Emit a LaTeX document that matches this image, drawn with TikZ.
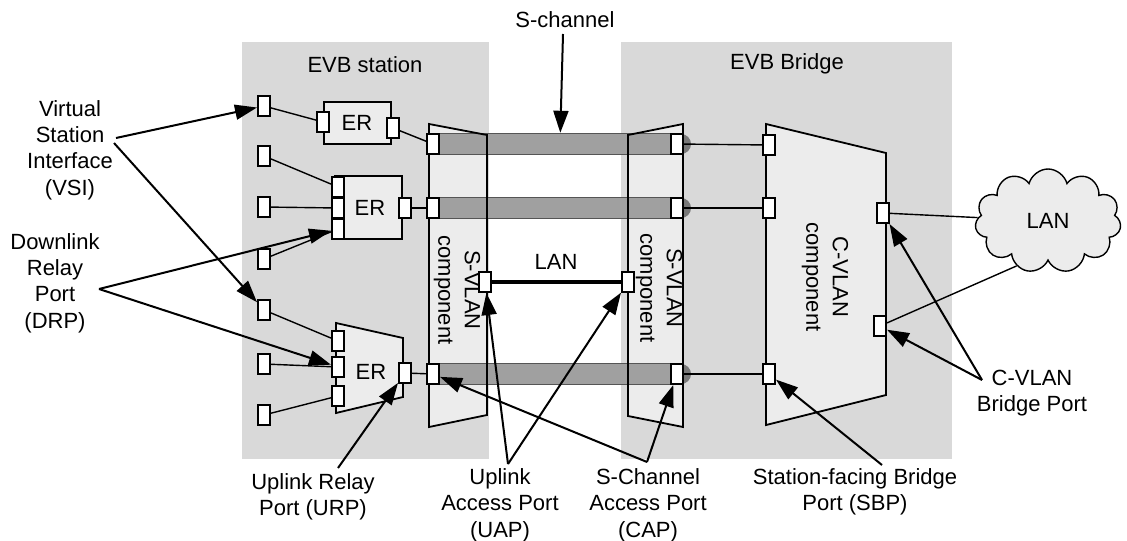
\documentclass[tikz,border=0pt]{standalone}
\usepackage{fontspec}
\setmainfont{Liberation Sans}
\usetikzlibrary{arrows.meta,shapes.symbols}

\definecolor{evbgray}{RGB}{217,217,217}
\definecolor{compgray}{RGB}{236,236,236}
\definecolor{changray}{RGB}{160,160,160}
\definecolor{chanedge}{RGB}{85,85,85}

\begin{document}
\begin{tikzpicture}[
    x=0.5pt, y=-0.5pt,
    >={Triangle[length=11pt,width=7.5pt]},
    font=\fontsize{11}{13.2}\selectfont,
    evbbox/.style={
        fill=evbgray
    },
    component/.style={
        draw,
        line width=0.9pt,
        fill=compgray
    },
    port/.style={
        draw,
        fill=white,
        line width=1pt,
        minimum width=6pt,
        minimum height=10pt,
        inner sep=0pt
    },
    schannel/.style={
        draw=chanedge,
        fill=changray,
        line width=0.7pt,
        minimum width=123.5pt,
        minimum height=10.5pt,
        inner sep=0pt
    },
    link/.style={
        draw,
        line width=0.7pt
    },
    callout/.style={
        draw,
        ->,
        line width=1pt
    },
    rotlabel/.style={
        rotate=-90,
        align=center
    }
]

\useasboundingbox (0,0) rectangle (1127,540);

% ============ BACKGROUND BOXES ============
\fill[evbbox] (242,42) rectangle (489,459);
\fill[evbbox] (621,42) rectangle (952,459);
\node (stationlbl) at (365,65) {EVB station};
\node (bridgelbl) at (787,64) {EVB Bridge};

% ============ S-VLAN COMPONENTS ============
\fill[compgray] (429,124) -- (487,135) -- (487,415) -- (429,427) -- cycle;
\fill[compgray] (628,135) -- (683,124) -- (683,427) -- (628,416) -- cycle;

% S-channels
\foreach \y/\n in {144/1, 208/2, 374/3} {
    \fill[changray!75!black] (437,\y) circle (5pt);
    \fill[changray!75!black] (681,\y) circle (5pt);
    \node[schannel] (ch\n) at (560,\y) {};
}

\draw[component, fill=none] (429,124) -- (487,135) -- (487,415) -- (429,427) -- cycle;
\draw[component, fill=none] (628,135) -- (683,124) -- (683,427) -- (628,416) -- cycle;
\node[rotlabel] (svlanA) at (457,290) {S-VLAN\\component};
\node[rotlabel] (svlanB) at (659,288) {S-VLAN\\component};

% ============ C-VLAN COMPONENT ============
\draw[component] (766,124) -- (886,153) -- (886,395) -- (766,425) -- cycle;
\node[rotlabel] (cvlan) at (825,277) {C-VLAN\\component};

% ============ EDGE RELAYS ============
\draw[component] (324,102) rectangle (391,144);
\node (er1) at (357,123) {ER};
\draw[component] (335,176) rectangle (402,239);
\node (er2) at (370,208) {ER};
\draw[component] (336,323) -- (403,338) -- (403,397) -- (336,413) -- cycle;
\node (er3) at (371,372) {ER};

% ============ PORTS ============
% VSI ports
\foreach \y/\n in {106/1, 156/2, 207/3, 259/4, 310/5, 364/6, 415/7} {
    \node[port] (v\n) at (264,\y) {};
}

% ER ports
\node[port] (e1l) at (323,122) {};
\node[port] (e1r) at (393,128) {};
\node[port] (e2a) at (338,187) {};
\node[port] (e2b) at (338,208) {};
\node[port] (e2c) at (338,229) {};
\node[port] (e2r) at (405,208) {};
\node[port] (e3a) at (338,341) {};
\node[port] (e3b) at (338,367) {};
\node[port] (e3c) at (338,396) {};
\node[port] (e3r) at (405,373) {};

% S-VLAN ports
\node[port] (sl1) at (433,144) {};
\node[port] (sl2) at (433,208) {};
\node[port] (sl3) at (433,374) {};
\node[port] (sr1) at (677,144) {};
\node[port] (sr2) at (677,208) {};
\node[port] (sr3) at (677,374) {};
\node[port] (ul) at (485,282) {};
\node[port] (ur) at (628,282) {};

% C-VLAN ports
\node[port] (c1) at (769,145) {};
\node[port] (c2) at (769,208) {};
\node[port] (c3) at (769,374) {};
\node[port] (c4) at (883,213) {};
\node[port] (c5) at (880,326) {};

% LAN cloud
\node[cloud, cloud puffs=11, aspect=1.5, draw, line width=0.7pt, fill=compgray,
      minimum width=73pt, minimum height=52pt] (lan) at (1048,221) {LAN};

% ============ LINKS ============
\draw[link] (v1) -- (e1l);
\draw[link] (v2) -- (e2a);
\draw[link] (v3) -- (e2b);
\draw[link] (v4) -- (e2c);
\draw[link] (v5) -- (e3a);
\draw[link] (v6) -- (e3b);
\draw[link] (v7) -- (e3c);
\draw[link] (e1r) -- (sl1);
\draw[link] (e2r) -- (sl2);
\draw[link] (e3r) -- (sl3);
\draw[link] (sr1) -- (c1);
\draw[link] (sr2) -- (c2);
\draw[link] (sr3) -- (c3);
\draw[link] (c4) -- (lan);
\draw[link] (c5) -- (lan.235);
\draw[line width=1.8pt] (ul) -- (ur);
\node (lanlbl) at (556,262) {LAN};

% ============ ANNOTATIONS ============
\node (schlbl) at (565,20) {S-channel};
\coordinate (schA) at (563,34);
\draw[callout] (schA) -- (ch1);

\node[align=center] (vsilbl) at (70,150) {Virtual\\Station\\Interface\\(VSI)};
\coordinate (vsiA) at (116,138);
\coordinate (vsiB) at (114,143);
\draw[callout] (vsiA) -- (v1);
\draw[callout] (vsiB) -- (v5);

\node[align=center] (drplbl) at (55,283) {Downlink\\Relay\\Port\\(DRP)};
\coordinate (drpA) at (99,289);
\draw[callout] (drpA) -- (e2c);
\draw[callout] (drpA) -- (e3b);

\node[align=center] (urplbl) at (313,497) {Uplink Relay\\Port (URP)};
\coordinate (urpA) at (338,468);
\draw[callout] (urpA) -- (e3r);

\node[align=center] (uaplbl) at (500,505) {Uplink\\Access Port\\(UAP)};
\coordinate (uapA) at (508,464);
\draw[callout] (uapA) -- (ul);
\draw[callout] (uapA) -- (ur);

\node[align=center] (caplbl) at (648,505) {S-Channel\\Access Port\\(CAP)};
\coordinate (capA) at (647,462);
\draw[callout] (capA) -- (sl3);
\draw[callout] (capA) -- (sr3);

\node[align=center] (sbplbl) at (855,492) {Station-facing Bridge\\Port (SBP)};
\coordinate (sbpA) at (882,465);
\draw[callout] (sbpA) -- (c3);

\node[align=center] (cbplbl) at (1032,393) {C-VLAN\\Bridge Port};
\coordinate (cbpA) at (982,380);
\draw[callout] (cbpA) -- (c4);
\draw[callout] (cbpA) -- (c5);

\end{tikzpicture}
\end{document}
